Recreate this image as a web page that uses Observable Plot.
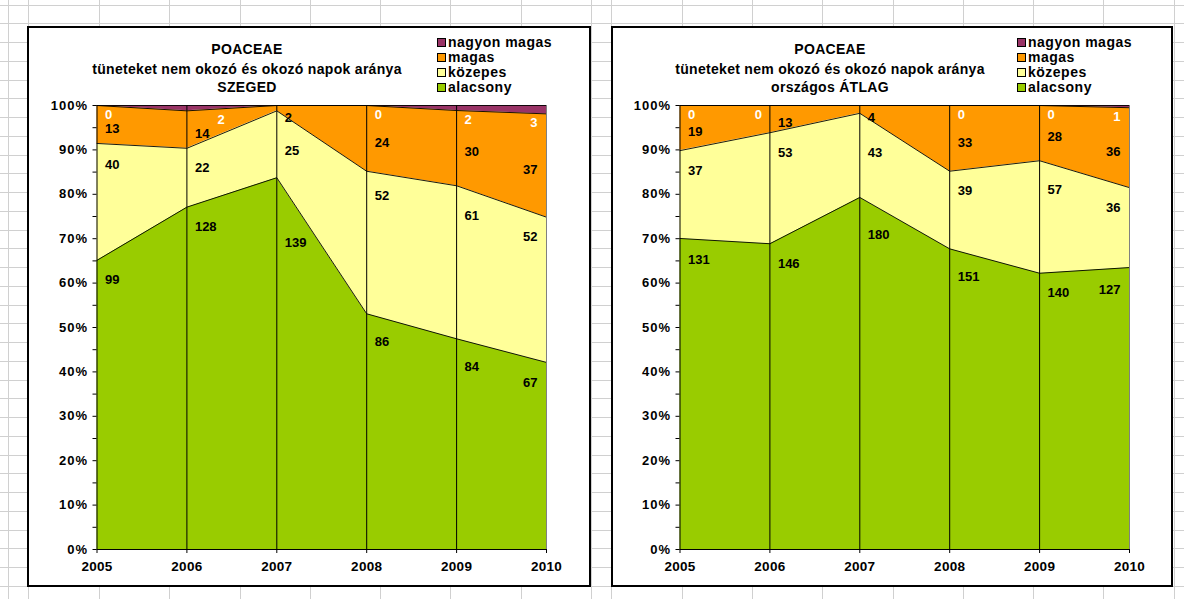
<!DOCTYPE html>
<html><head><meta charset="utf-8">
<script src="https://cdn.jsdelivr.net/npm/d3@7"></script>
<script src="https://cdn.jsdelivr.net/npm/@observablehq/plot@0.6"></script>
<style>
html,body{margin:0;padding:0;background:#fff;}
body{width:1184px;height:599px;position:relative;overflow:hidden;font-family:"Liberation Sans",Arial,sans-serif;}
.frame{position:absolute;box-sizing:border-box;border:2px solid #000;background:#fff;}
.title{position:absolute;font-weight:bold;font-size:14px;letter-spacing:0.3px;white-space:nowrap;transform:translate(-50%,-50%);color:#000;}
.legrow{position:absolute;font-weight:bold;font-size:14px;letter-spacing:0.5px;white-space:nowrap;line-height:15px;height:15px;color:#000;}
.sw{position:absolute;left:0;top:3px;width:9px;height:9px;box-sizing:border-box;border:1px solid #000;}
.legtxt{position:absolute;left:11px;top:0;}
.plotbox{position:absolute;}
.plotbox g[aria-label="y-axis tick label"] text{font-size:13px;font-weight:bold;letter-spacing:1px;}
.plotbox g[aria-label="x-axis tick label"] text{font-size:13.5px;font-weight:bold;letter-spacing:0.3px;}
</style></head>
<body>
<svg id="grid" width="1184" height="599" style="position:absolute;left:0;top:0"></svg>
<script>
// ---- data ----
const years = [2005, 2006, 2007, 2008, 2009, 2010];
const series = ["alacsony", "közepes", "magas", "nagyon magas"];
const seriesColors = ["#99CC00", "#FFFF99", "#FF9900", "#993366"];
const legendOrder = ["nagyon magas", "magas", "közepes", "alacsony"];

const szegedAlacsony = [99, 128, 139, 86, 84, 67];
const szegedKozepes = [40, 22, 25, 52, 61, 52];
const szegedMagas = [13, 14, 2, 24, 30, 37];
const szegedNagyonMagas = [0, 2, null, 0, 2, 3];

const atlagAlacsony = [131, 146, 180, 151, 140, 127];
const atlagKozepes = [37, 53, 43, 39, 57, 36];
const atlagMagas = [19, 13, 4, 33, 28, 36];
const atlagNagyonMagas = [0, 0, null, 0, 0, 1];

const titleLine1 = "POACEAE";
const titleLine2 = "tüneteket nem okozó és okozó napok aránya";
const szegedTitle3 = "SZEGED";
const atlagTitle3 = "országos ÁTLAG";

const yTicks = d3.range(0, 21).map(d => d / 20);

// ---- background sheet grid ----
(function () {
  const g = d3.select("#grid");
  const cols = [8, 28, 99, 169, 240, 310, 380, 450, 521, 591, 611, 682, 752, 822, 893, 963, 1033, 1103, 1174];
  cols.forEach(x => g.append("line").attr("x1", x + 0.5).attr("x2", x + 0.5).attr("y1", 0).attr("y2", 599).attr("stroke", "#d0d0d0"));
  for (let y = 4.5; y < 599; y += 18.75) {
    const yy = Math.round(y) + 0.5;
    g.append("line").attr("x1", 0).attr("x2", 1184).attr("y1", yy).attr("y2", yy).attr("stroke", "#d0d0d0");
  }
})();

function buildChart(cfg) {
  const body = document.body;
  const [fx, fy, fw, fh] = cfg.frame;
  const frame = document.createElement("div");
  frame.className = "frame";
  Object.assign(frame.style, {left: fx + "px", top: fy + "px", width: fw + "px", height: fh + "px"});
  body.appendChild(frame);

  // titles
  [[titleLine1, 49], [titleLine2, 68.5], [cfg.title3, 87]].forEach(([t, y]) => {
    const d = document.createElement("div");
    d.className = "title";
    d.textContent = t;
    d.style.left = cfg.titleX + "px";
    d.style.top = y + "px";
    body.appendChild(d);
  });

  // legend
  legendOrder.forEach((s, i) => {
    const r = document.createElement("div");
    r.className = "legrow";
    r.style.left = cfg.legendX + "px";
    r.style.top = (35 + i * 15) + "px";
    const sw = document.createElement("span");
    sw.className = "sw";
    sw.style.background = seriesColors[series.indexOf(s)];
    const tx = document.createElement("span");
    tx.className = "legtxt";
    tx.textContent = s;
    r.appendChild(sw); r.appendChild(tx);
    body.appendChild(r);
  });

  const vals = cfg.values;
  const rows = [];
  years.forEach((yr, i) => series.forEach((s, j) => rows.push({year: yr, series: s, value: vals[j][i] ?? 0})));

  const mT = 105 - fy, mB = fy + fh - 549;
  const mL = cfg.plotX[0] - fx, mR = fx + fw - cfg.plotX[1];
  const plotH = fh - mT - mB;
  const k = 1 / plotH;
  const last = years.length - 1;

  const totals = years.map((_, i) => d3.sum(vals, v => v[i] ?? 0));
  const cum = vals.map((v, j) => years.map((_, i) => d3.sum(vals.slice(0, j + 1), vv => vv[i] ?? 0) / totals[i]));
  const top = (j, i) => cum[j][i];
  const bot = (j, i) => j === 0 ? 0 : cum[j - 1][i];
  const txtW = v => String(v).length * 7.3;

  const labels = [];
  years.forEach((yr, i) => {
    const pos = {};
    vals.forEach((v, j) => {
      let f;
      if (j <= 1) {
        const n = i < last ? i + 1 : i - 1;
        const t = top(j, i);
        const tn = t + (top(j, n) - t) / 3;
        f = Math.min(t, tn) - 20 * k;
      } else if (j === 2) {
        f = Math.min((top(j, i) + bot(j, i)) / 2 - 4 * k, top(j, i) - 12 * k);
      } else {
        f = bot(j, i) - 9 * k;
      }
      pos[j] = f;
    });
    vals.forEach((v, j) => {
      const raw = v[i];
      if (raw === null || raw === undefined) return;
      let anchor = i < last ? "start" : "end";
      let dx = i < last ? 8 : -9;
      if (j === 3 && i < last) {
        const diff = (pos[2] - pos[3]) / k;
        if (Math.abs(diff) < 10) { anchor = "end"; dx = -8; }
        else if (Math.abs(diff) < 16 && raw > 0) { dx = 8 + txtW(vals[2][i]) + 8; }
      }
      labels.push({year: yr, y: pos[j], text: String(raw), fill: j === 3 ? "#fff" : "#000", anchor, dx});
    });
  });

  const groups = d3.groups(labels, d => d.anchor + "|" + d.dx + "|" + d.fill);
  const textMarks = groups.map(([key, arr]) => Plot.text(arr, {
    x: "year", y: "y", text: "text", fill: arr[0].fill, textAnchor: arr[0].anchor, dx: arr[0].dx,
    fontSize: 13, fontWeight: "bold", fontFamily: "Liberation Sans, Arial, sans-serif"
  }));

  const stackOpts = {x: "year", y: "value", z: "series", order: series, offset: "normalize"};

  const svg = Plot.plot({
    width: fw, height: fh,
    marginLeft: mL, marginRight: mR, marginTop: mT, marginBottom: mB,
    style: {background: "transparent", fontFamily: "Liberation Sans, Arial, sans-serif", fontWeight: "bold", color: "#000", overflow: "visible"},
    x: {domain: [years[0], years[last]]},
    y: {domain: [0, 1]},
    color: {domain: series, range: seriesColors},
    marks: [
      Plot.areaY(rows, Plot.stackY({...stackOpts, fill: "series"})),
      Plot.lineY(rows, Plot.stackY2({...stackOpts, stroke: "#000", strokeWidth: 0.9})),
      Plot.ruleX(years.slice(0, last), {y1: 0, y2: 1, stroke: "#000", strokeWidth: 1}),
      Plot.ruleX([years[last]], {y1: 0, y2: 1, stroke: "#808080", strokeWidth: 1}),
      Plot.ruleY([0], {stroke: "#000", strokeWidth: 1}),
      Plot.axisY({ticks: yTicks, tickFormat: d => (Math.round(d * 100) % 10 === 0 ? Math.round(d * 100) + "%" : ""), tickSize: 4, tickPadding: 5, fontSize: 13, fontWeight: "bold", label: null}),
      Plot.axisX({ticks: years, tickFormat: "d", tickSize: 4, tickPadding: 8, fontSize: 13.5, fontWeight: "bold", label: null}),
      ...textMarks
    ]
  });
  svg.classList.add("plotbox");
  svg.style.position = "absolute";
  svg.style.left = fx + "px";
  svg.style.top = fy + "px";
  body.appendChild(svg);
}

buildChart({
  frame: [27, 26, 564, 561], plotX: [96.5, 546], titleX: 247, legendX: 437, title3: szegedTitle3,
  values: [szegedAlacsony, szegedKozepes, szegedMagas, szegedNagyonMagas]
});
buildChart({
  frame: [611, 26, 562, 561], plotX: [679.5, 1129], titleX: 830, legendX: 1017, title3: atlagTitle3,
  values: [atlagAlacsony, atlagKozepes, atlagMagas, atlagNagyonMagas]
});
</script>
</body></html>
